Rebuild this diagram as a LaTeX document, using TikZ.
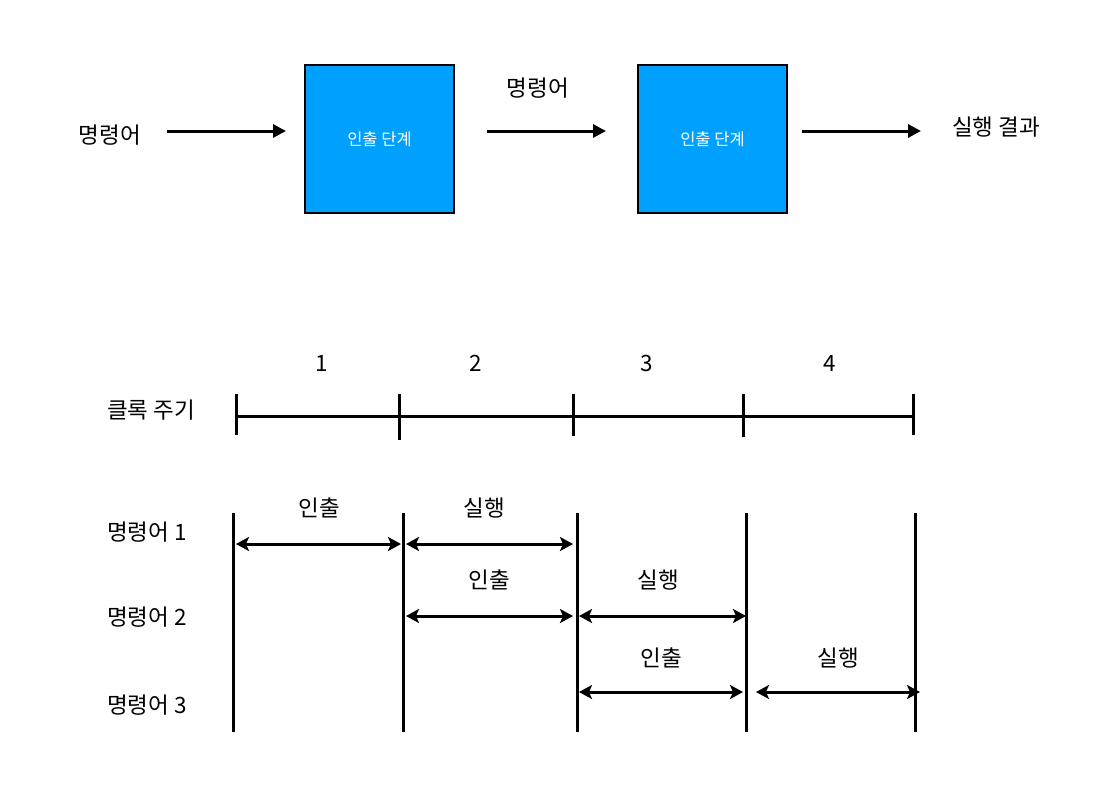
\documentclass[tikz,border=0pt]{standalone}
\usepackage{fontspec}
\setmainfont{Noto Sans CJK KR}
\usetikzlibrary{arrows.meta}
\definecolor{boxblue}{RGB}{0,160,255}
\tikzset{
  stagebox/.style={draw=black,line width=2pt,fill=boxblue,minimum width=149pt,minimum height=148pt,inner sep=0pt,text=white,font=\fontsize{16.5}{18}\selectfont},
  lbl/.style={font=\fontsize{22.5}{26}\selectfont,inner sep=0pt},
  flowarr/.style={line width=3pt,-{Triangle[length=13pt,width=13pt]}},
  twoarr/.style={line width=3pt,{Stealth[length=13pt,width=14pt,inset=3pt]}-{Stealth[length=13pt,width=14pt,inset=3pt]}},
  vline/.style={line width=3pt},
  tline/.style={line width=3pt},
}
\begin{document}
\begin{tikzpicture}[x=1pt,y=-1pt]
\useasboundingbox (0,0) rectangle (1102,796);
% top flow
\node[lbl] (in) at (110,135) {명령어};
\node[stagebox] (b1) at (379.5,139) {인출 단계};
\node[stagebox] (b2) at (712.5,139) {인출 단계};
\node[lbl] (mid) at (538,88) {명령어};
\node[lbl] (out) at (996,127) {실행 결과};
\coordinate (a1s) at (167,131); \coordinate (a1e) at (286,131);
\coordinate (a2s) at (487,131); \coordinate (a2e) at (606,131);
\coordinate (a3s) at (802,131); \coordinate (a3e) at (921,131);
\draw[flowarr] (a1s) -- (a1e);
\draw[flowarr] (a2s) -- (a2e);
\draw[flowarr] (a3s) -- (a3e);
% clock
\node[lbl] (n1) at (322,363) {1};
\node[lbl] (n2) at (476,363) {2};
\node[lbl] (n3) at (647,363) {3};
\node[lbl] (n4) at (830,363) {4};
\node[lbl] (clk) at (151,410) {클록 주기};
\coordinate (t0) at (236,416); \coordinate (t4) at (913,416);
\draw[tline] (t0) -- (t4);
\coordinate (k0a) at (236,394); \coordinate (k0b) at (236,435);
\coordinate (k1a) at (399,394); \coordinate (k1b) at (399,440);
\coordinate (k2a) at (573,394); \coordinate (k2b) at (573,436);
\coordinate (k3a) at (743,394); \coordinate (k3b) at (743,437);
\coordinate (k4a) at (913,394); \coordinate (k4b) at (913,435);
\foreach \k in {0,1,2,3,4} \draw[vline] (k\k a) -- (k\k b);
% pipeline
\node[lbl] (r1) at (147,532) {명령어 1};
\node[lbl] (r2) at (147,617) {명령어 2};
\node[lbl] (r3) at (147,705) {명령어 3};
\foreach \i/\x in {0/233,1/403,2/577,3/746,4/915} {
  \coordinate (v\i a) at (\x,513); \coordinate (v\i b) at (\x,732);
  \draw[vline] (v\i a) -- (v\i b);
}
% row 1
\coordinate (p1a) at (236,544); \coordinate (p1b) at (401,544);
\coordinate (p1c) at (406,544); \coordinate (p1d) at (573,544);
\draw[twoarr] (p1a) -- (p1b);
\draw[twoarr] (p1c) -- (p1d);
\node[lbl] (f1) at (319,508) {인출};
\node[lbl] (e1) at (484,508) {실행};
% row 2
\coordinate (p2a) at (406,616); \coordinate (p2b) at (573,616);
\coordinate (p2c) at (579,616); \coordinate (p2d) at (746,616);
\draw[twoarr] (p2a) -- (p2b);
\draw[twoarr] (p2c) -- (p2d);
\node[lbl] (f2) at (489,580) {인출};
\node[lbl] (e2) at (658,580) {실행};
% row 3
\coordinate (p3a) at (579,692); \coordinate (p3b) at (743,692);
\coordinate (p3c) at (756,692); \coordinate (p3d) at (920,692);
\draw[twoarr] (p3a) -- (p3b);
\draw[twoarr] (p3c) -- (p3d);
\node[lbl] (f3) at (661,658) {인출};
\node[lbl] (e3) at (838,658) {실행};
\end{tikzpicture}
\end{document}
